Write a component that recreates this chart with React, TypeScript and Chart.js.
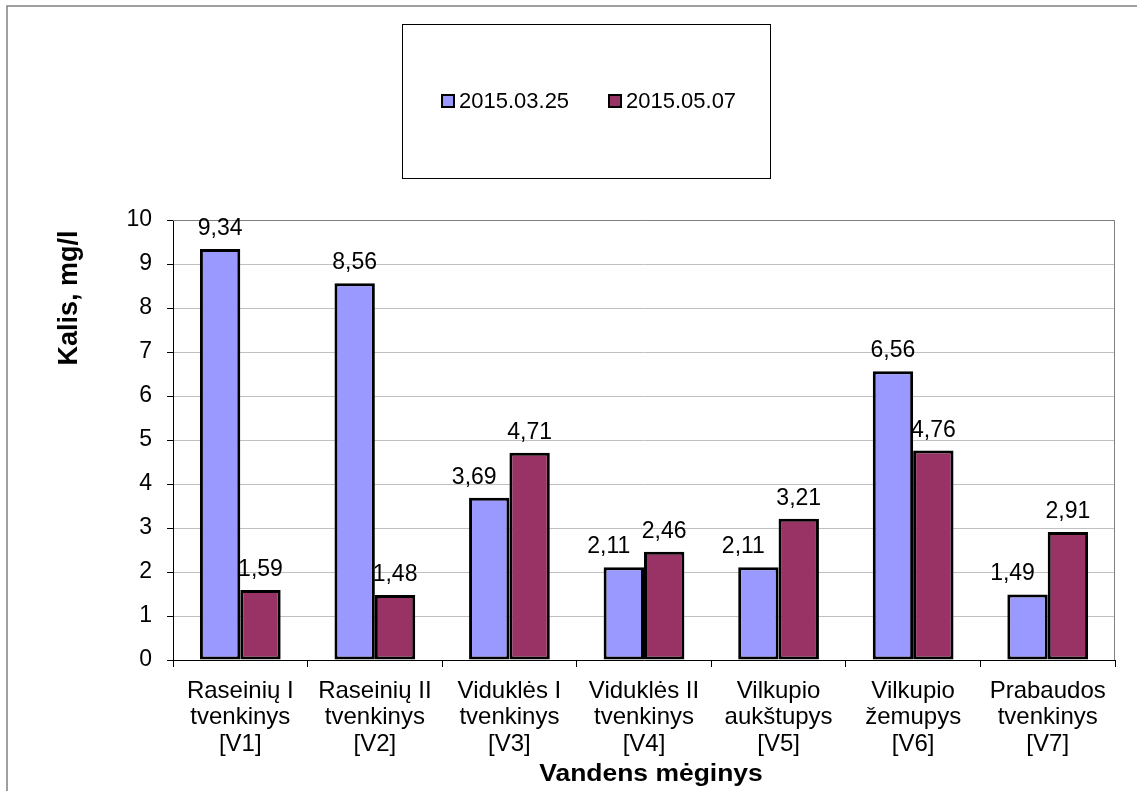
import React, { useEffect, useRef } from "react";
import { Chart, registerables } from "chart.js";

Chart.register(...registerables);

const categories: string[][] = [
  ["Raseinių I", "tvenkinys", "[V1]"],
  ["Raseinių II", "tvenkinys", "[V2]"],
  ["Viduklės I", "tvenkinys", "[V3]"],
  ["Viduklės II", "tvenkinys", "[V4]"],
  ["Vilkupio", "aukštupys", "[V5]"],
  ["Vilkupio", "žemupys", "[V6]"],
  ["Prabaudos", "tvenkinys", "[V7]"],
];
const seriesNames = ["2015.03.25", "2015.05.07"];
const march = [9.34, 8.56, 3.69, 2.11, 2.11, 6.56, 1.49];
const may = [1.59, 1.48, 4.71, 2.46, 3.21, 4.76, 2.91];
const yTitle = "Kalis, mg/l";
const xTitle = "Vandens mėginys";

const FONT = "Liberation Sans, Arial, sans-serif";
const BLUE = "#9999FF";
const PLUM = "#993366";

const fmt = (v: number) => v.toFixed(2).replace(".", ",");

const decorPlugin = {
  id: "decor",
  beforeDatasetsDraw(chart: any) {
    const { ctx, chartArea: a } = chart;
    ctx.save();
    ctx.strokeStyle = "#808080";
    ctx.lineWidth = 1;
    ctx.beginPath();
    ctx.moveTo(a.left, a.top + 0.5);
    ctx.lineTo(a.right - 0.5, a.top + 0.5);
    ctx.lineTo(a.right - 0.5, a.bottom);
    ctx.stroke();
    ctx.restore();
  },
  afterDatasetsDraw(chart: any) {
    const { ctx } = chart;
    ctx.save();
    ctx.font = `23px ${FONT}`;
    ctx.fillStyle = "#000";
    ctx.textAlign = "center";
    ctx.textBaseline = "alphabetic";
    chart.data.datasets.forEach((ds: any, di: number) => {
      const meta = chart.getDatasetMeta(di);
      meta.data.forEach((el: any, i: number) => {
        let dx = 0;
        if (di === 0 && may[i] > march[i]) dx = -15;
        ctx.fillText(fmt(ds.data[i]), el.x + dx, el.y - 14);
      });
    });
    ctx.restore();
  },
  afterDraw(chart: any) {
    const { ctx, chartArea: a } = chart;
    ctx.save();
    // outer frame
    ctx.strokeStyle = "#808080";
    ctx.lineWidth = 1.5;
    ctx.strokeRect(7, 6, 1200, 900);
    // legend box
    ctx.strokeStyle = "#000";
    ctx.lineWidth = 1;
    ctx.strokeRect(402.5, 24.5, 368, 154);
    ctx.font = `22px ${FONT}`;
    ctx.textBaseline = "middle";
    ctx.textAlign = "left";
    const xs = [442, 609];
    chart.data.datasets.forEach((ds: any, di: number) => {
      const x = xs[di];
      ctx.fillStyle = ds.backgroundColor;
      ctx.fillRect(x, 95, 12, 12);
      ctx.strokeStyle = "#000";
      ctx.lineWidth = 2;
      ctx.strokeRect(x, 95, 12, 12);
      ctx.fillStyle = "#000";
      ctx.fillText(ds.label, x + 17, 102);
    });
    // axis titles
    ctx.fillStyle = "#000";
    ctx.textAlign = "center";
    ctx.textBaseline = "alphabetic";
    ctx.save();
    ctx.font = `bold 23px ${FONT}`;
    ctx.translate(a.left + 478, 781);
    ctx.scale(1.15, 1);
    ctx.fillText(xTitle, 0, 0);
    ctx.restore();
    ctx.save();
    ctx.font = `bold 27px ${FONT}`;
    ctx.translate(77, a.top + 78);
    ctx.rotate(-Math.PI / 2);
    ctx.fillText(yTitle, 0, 0);
    ctx.restore();
    ctx.restore();
  },
};

export default function App() {
  const ref = useRef<HTMLCanvasElement>(null);
  useEffect(() => {
    if (!ref.current) return;
    const chart = new Chart(ref.current, {
      type: "bar",
      data: {
        labels: categories,
        datasets: [
          {
            label: seriesNames[0],
            data: march,
            backgroundColor: BLUE,
            borderColor: "#000",
            borderWidth: 3,
            borderSkipped: false,
            categoryPercentage: 0.6,
            barPercentage: 1,
          },
          {
            label: seriesNames[1],
            data: may,
            backgroundColor: PLUM,
            borderColor: "#000",
            borderWidth: 3,
            borderSkipped: false,
            categoryPercentage: 0.6,
            barPercentage: 1,
          },
        ],
      },
      options: {
        animation: false,
        responsive: false,
        maintainAspectRatio: false,
        layout: { padding: { left: 0, top: 220, right: 22, bottom: 0 } },
        plugins: {
          legend: { display: false },
          tooltip: { enabled: false },
          title: { display: false },
        },
        scales: {
          x: {
            offset: true,
            grid: {
              offset: true,
              drawOnChartArea: false,
              tickLength: 7,
              tickColor: "#000",
            },
            border: { color: "#000", width: 1 },
            ticks: {
              color: "#000",
              font: { family: FONT, size: 24, lineHeight: 1.1 },
              padding: 11,
              maxRotation: 0,
              autoSkip: false,
            },
            afterFit: (s: any) => {
              s.height = 131;
            },
          },
          y: {
            min: 0,
            max: 10,
            grid: {
              color: "#c0c0c0",
              tickLength: 6,
              tickColor: "#000",
            },
            border: { color: "#000", width: 1 },
            ticks: {
              stepSize: 1,
              color: "#000",
              font: { family: FONT, size: 23 },
              padding: 15,
            },
            afterFit: (s: any) => {
              s.width = 173;
            },
          },
        },
      },
      plugins: [decorPlugin],
    });
    return () => chart.destroy();
  }, []);
  return (
    <div style={{ position: "fixed", left: 0, top: 0, width: 1137, height: 791, background: "#fff" }}>
      <canvas ref={ref} width={1137} height={791} style={{ display: "block" }} />
    </div>
  );
}
